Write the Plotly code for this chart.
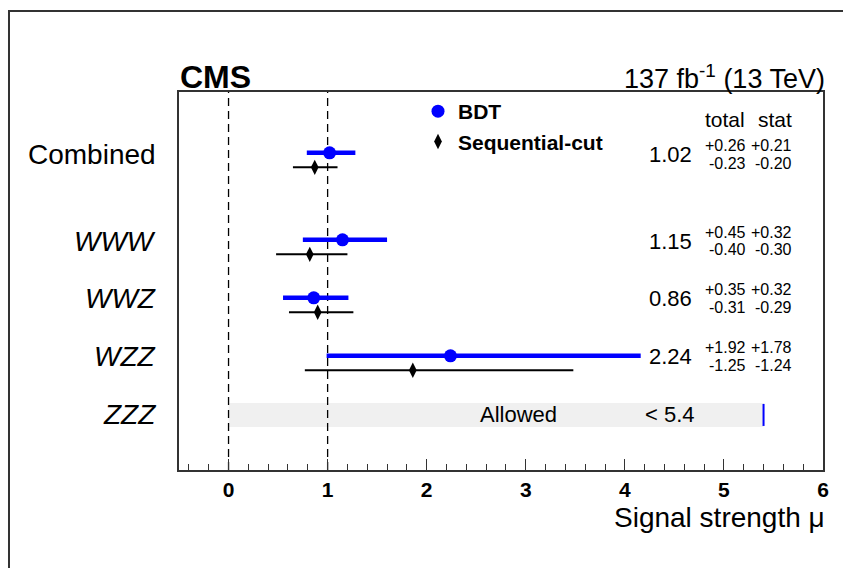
import plotly.graph_objects as go

# ---------------- data ----------------
categories = ["Combined", "WWW", "WWZ", "WZZ", "ZZZ"]
italic_label = [False, True, True, True, True]

# BDT results (measured rows only: Combined, WWW, WWZ, WZZ)
bdt_cats = ["Combined", "WWW", "WWZ", "WZZ"]
bdt_mu = [1.02, 1.15, 0.86, 2.24]
bdt_tot_up = [0.26, 0.45, 0.35, 1.92]
bdt_tot_dn = [0.23, 0.40, 0.31, 1.25]
bdt_stat_up = [0.21, 0.32, 0.32, 1.78]
bdt_stat_dn = [0.20, 0.30, 0.29, 1.24]

# Sequential-cut results
seq_mu = [0.87, 0.82, 0.90, 1.86]
seq_lo = [0.65, 0.48, 0.61, 0.77]
seq_hi = [1.10, 1.20, 1.26, 3.48]

# ZZZ upper limit
zzz_limit = 5.4

x_ticks = [0, 1, 2, 3, 4, 5, 6]

# ---------------- layout constants ----------------
row_y = {"Combined": 4.5, "WWW": 3, "WWZ": 2, "WZZ": 1, "ZZZ": 0}
bdt_off = 0.02
seq_off = -0.23
W, H = 843, 568
L, R, T, B = 179, 20, 92, 98
XR = [-0.5, 6]
YR = [-0.95, 5.57]
FONT = "Liberation Sans, Arial, Helvetica, sans-serif"
PW, PH = W - L - R, H - T - B

fig = go.Figure()

# ZZZ allowed band
fig.add_trace(go.Bar(
    x=[zzz_limit], y=[row_y["ZZZ"]], base=[0], orientation="h", width=0.414,
    marker=dict(color="#f0f0f0", line=dict(width=0)), showlegend=False, hoverinfo="skip"))

# dashed reference lines
for xv in [0, 1]:
    fig.add_trace(go.Scatter(
        x=[xv, xv], y=YR, mode="lines",
        line=dict(color="black", width=1.3, dash="8px,5px"),
        showlegend=False, hoverinfo="skip"))

# ZZZ limit line
fig.add_trace(go.Scatter(
    x=[zzz_limit, zzz_limit], y=[row_y["ZZZ"] - 0.19, row_y["ZZZ"] + 0.19], mode="lines",
    line=dict(color="#0000ff", width=2), showlegend=False, hoverinfo="skip"))

# Sequential-cut
fig.add_trace(go.Scatter(
    x=seq_mu, y=[row_y[c] + seq_off for c in bdt_cats], mode="markers",
    name="Sequential-cut",
    marker=dict(symbol="diamond-tall", size=11, color="black"),
    error_x=dict(type="data", symmetric=False,
                 array=[h - m for h, m in zip(seq_hi, seq_mu)],
                 arrayminus=[m - l for m, l in zip(seq_mu, seq_lo)],
                 color="black", thickness=2, width=0)))

# BDT
fig.add_trace(go.Scatter(
    x=bdt_mu, y=[row_y[c] + bdt_off for c in bdt_cats], mode="markers",
    name="BDT",
    marker=dict(symbol="circle", size=13, color="#0000ff"),
    error_x=dict(type="data", symmetric=False, array=bdt_tot_up, arrayminus=bdt_tot_dn,
                 color="#0000ff", thickness=4.5, width=0)))

ann = []
# y labels
for c, it in zip(categories, italic_label):
    ann.append(dict(x=-21 / PW, xref="paper", y=row_y[c], yref="y",
                    text=f"<i>{c}</i>" if it else c, showarrow=False,
                    xanchor="right", yanchor="middle",
                    font=dict(family=FONT, size=28, color="black")))


def px2x(px):
    return XR[0] + (px - L) / PW * (XR[1] - XR[0])


dy = 0.155
for i, c in enumerate(bdt_cats):
    yv = row_y[c]
    ann.append(dict(x=px2x(694), y=yv, xref="x", yref="y", text=f"{bdt_mu[i]:.2f}",
                    showarrow=False, xanchor="right", yanchor="middle",
                    font=dict(family=FONT, size=22, color="black")))
    for xpx, up, dn in [(748, bdt_tot_up[i], bdt_tot_dn[i]), (794, bdt_stat_up[i], bdt_stat_dn[i])]:
        ann.append(dict(x=px2x(xpx), y=yv + dy, xref="x", yref="y", text=f"+{up:.2f}",
                        showarrow=False, xanchor="right", yanchor="middle",
                        font=dict(family=FONT, size=16, color="black")))
        ann.append(dict(x=px2x(xpx), y=yv - dy, xref="x", yref="y", text=f"-{dn:.2f}",
                        showarrow=False, xanchor="right", yanchor="middle",
                        font=dict(family=FONT, size=16, color="black")))

ann.append(dict(x=px2x(747), y=5.1, xref="x", yref="y", text="total", showarrow=False,
                xanchor="right", yanchor="middle", font=dict(family=FONT, size=21, color="black")))
ann.append(dict(x=px2x(794), y=5.1, xref="x", yref="y", text="stat", showarrow=False,
                xanchor="right", yanchor="middle", font=dict(family=FONT, size=21, color="black")))

ann.append(dict(x=2.93, y=row_y["ZZZ"], xref="x", yref="y", text="Allowed", showarrow=False,
                xanchor="center", yanchor="middle", font=dict(family=FONT, size=22, color="black")))
ann.append(dict(x=px2x(697), y=row_y["ZZZ"], xref="x", yref="y", text=f"&lt; {zzz_limit}",
                showarrow=False, xanchor="right", yanchor="middle",
                font=dict(family=FONT, size=22, color="black")))

# header texts
ann.append(dict(x=-1 / PW, y=1 + 15 / PH, xref="paper", yref="paper", text="<b>CMS</b>",
                showarrow=False, xanchor="left", yanchor="middle",
                font=dict(family=FONT, size=32, color="black")))
ann.append(dict(x=1 + 4 / PW, y=1 + 15 / PH, xref="paper", yref="paper",
                text="137 fb<sup>-1</sup> (13 TeV)", showarrow=False, xanchor="right",
                yanchor="middle", font=dict(family=FONT, size=27, color="black")))
ann.append(dict(x=1 + 4 / PW, y=-47 / PH, xref="paper", yref="paper",
                text="Signal strength μ", showarrow=False, xanchor="right", yanchor="middle",
                font=dict(family=FONT, size=28, color="black")))

# outer frame (only left and top edges are visible in the picture): one open path
fx0 = (9 - L) / PW
fx1 = (W + 60 - L) / PW
fy0 = 1 + (T - 11) / PH
fy1 = -(B + 60) / PH
shapes = [
    dict(type="path", xref="paper", yref="paper",
         path=f"M {fx0:.5f} {fy1:.5f} L {fx0:.5f} {fy0:.5f} L {fx1:.5f} {fy0:.5f}",
         line=dict(color="#333333", width=2), fillcolor="rgba(0,0,0,0)"),
]

fig.update_layout(
    width=W, height=H,
    margin=dict(l=L, r=R, t=T, b=B, pad=0),
    paper_bgcolor="white", plot_bgcolor="white",
    annotations=ann,
    shapes=shapes,
    showlegend=True,
    legend=dict(x=(418 - L) / PW, y=1 + 1 / PH, xanchor="left", yanchor="top",
                bgcolor="rgba(0,0,0,0)", borderwidth=0, traceorder="reversed",
                font=dict(family=FONT, size=21, color="black", weight="bold"),
                itemsizing="trace"),
)

fig.update_xaxes(range=XR, tickvals=x_ticks, ticktext=[str(v) for v in x_ticks],
                 ticks="inside", ticklen=11, tickwidth=1.2, tickcolor="#333333",
                 minor=dict(dtick=0.2, tick0=0, ticks="inside", ticklen=6, tickwidth=1.2,
                            tickcolor="#333333", showgrid=False),
                 showline=True, linecolor="#333333", linewidth=1.5, mirror=True,
                 showgrid=False, zeroline=False,
                 tickfont=dict(family=FONT, size=21, color="black", weight="bold"))
fig.update_yaxes(range=YR, showticklabels=False, ticks="", showgrid=False, zeroline=False,
                 showline=True, linecolor="#333333", linewidth=1.5, mirror=True)

fig.write_html("out.html")
